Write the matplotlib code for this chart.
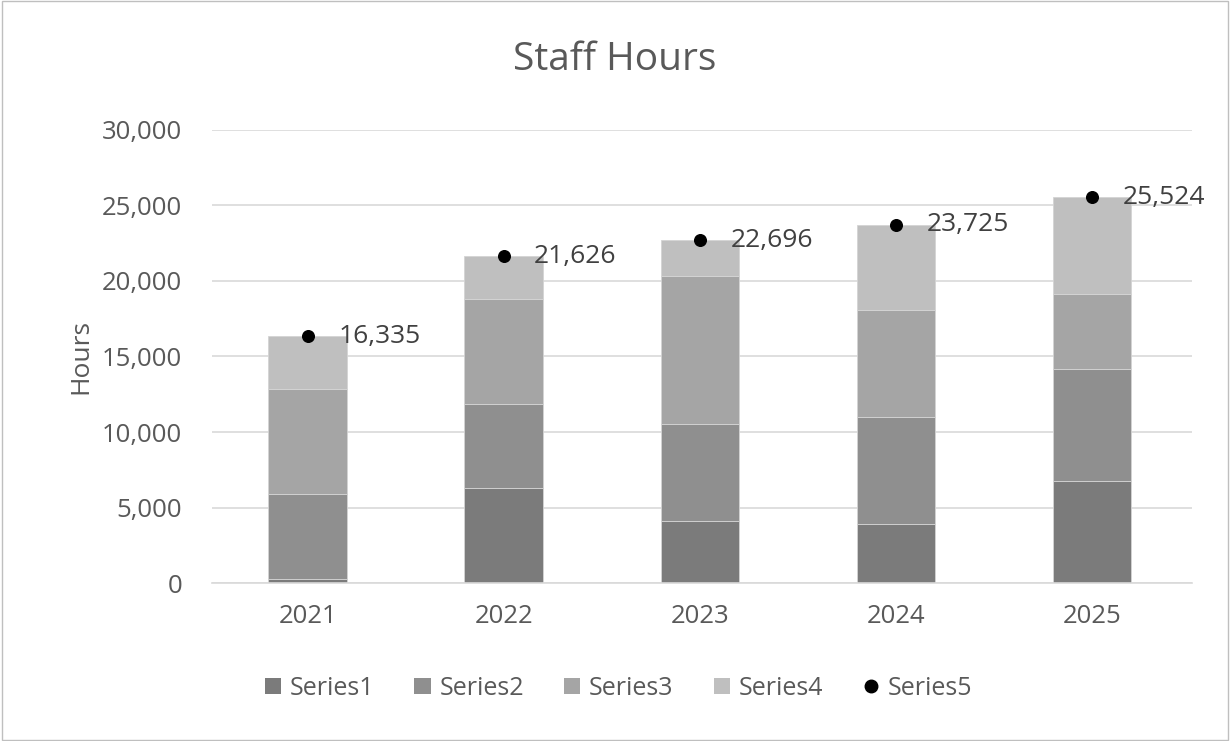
import matplotlib
matplotlib.use('Agg')
import matplotlib.pyplot as plt
from matplotlib.patches import Patch, Rectangle
from matplotlib.lines import Line2D
from matplotlib.ticker import FuncFormatter

plt.rcParams['font.family'] = ['Open Sans', 'DejaVu Sans']

years = ['2021', '2022', '2023', '2024', '2025']
series1 = [250, 6300, 4100, 3900, 6750]
series2 = [5650, 5550, 6400, 7100, 7450]
series3 = [6950, 6950, 9800, 7100, 4900]
totals = [16335, 21626, 22696, 23725, 25524]
series4 = [t - a - b - c for t, a, b, c in zip(totals, series1, series2, series3)]

colors = ['#7b7b7b', '#8f8f8f', '#a5a5a5', '#bfbfbf']
names = ['Series1', 'Series2', 'Series3', 'Series4', 'Series5']
txt = '#595959'

fig = plt.figure(figsize=(12.3, 7.41), dpi=100)
ax = fig.add_axes([0.172, 0.213, 0.797, 0.612])

x = list(range(len(years)))
bottom = [0] * len(years)
for vals, c in zip([series1, series2, series3, series4], colors):
    ax.bar(x, vals, width=0.4, bottom=bottom, color=c, edgecolor='#d4d4d4', linewidth=0.6, zorder=2)
    bottom = [b + v for b, v in zip(bottom, vals)]

ax.scatter(x, totals, s=70, color='black', zorder=4)
for xi, t in zip(x, totals):
    ax.annotate(f'{t:,}', (xi, t), xytext=(22, 0), textcoords='offset points',
                va='center', ha='left', fontsize=19, color='#404040')

ax.set_xlim(-0.49, 4.51)
ax.set_ylim(0, 30000)
ax.set_yticks(range(0, 30001, 5000))
ax.yaxis.set_major_formatter(FuncFormatter(lambda v, p: f'{int(v):,}'))
ax.set_xticks(x)
ax.set_xticklabels(years)
ax.grid(axis='y', color='#d9d9d9', linewidth=1.2, zorder=0)
ax.set_axisbelow(True)
for s in ax.spines.values():
    s.set_visible(False)
ax.spines['bottom'].set_visible(True)
ax.spines['bottom'].set_color('#d9d9d9')
ax.spines['bottom'].set_linewidth(1.2)
ax.tick_params(axis='both', length=0, labelsize=18.5, colors=txt, pad=15)
ax.tick_params(axis='y', pad=21)
ax.set_ylabel('Hours', fontsize=19, color=txt, labelpad=6)

fig.text(0.5, 0.919, 'Staff Hours', ha='center', va='center', fontsize=28, color=txt)

handles = [Patch(facecolor=c) for c in colors]
handles.append(Line2D([], [], marker='o', color='black', linestyle='None', markersize=9))
fig.legend(handles, names, loc='center', bbox_to_anchor=(0.503, 0.071), ncol=5, frameon=False,
           fontsize=18, labelcolor=txt, handlelength=0.65, handleheight=0.65,
           handletextpad=0.35, columnspacing=1.6)

fig.patches.append(Rectangle((0.002, 0.002), 0.996, 0.996, transform=fig.transFigure,
                             fill=False, edgecolor='#bfbfbf', linewidth=1))

plt.savefig('out.png', dpi=100)
